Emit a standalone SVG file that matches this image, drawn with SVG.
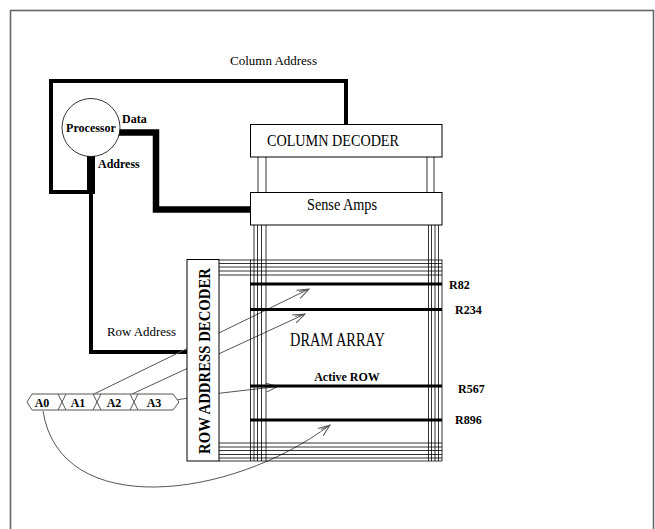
<svg xmlns="http://www.w3.org/2000/svg" width="655" height="529" viewBox="0 0 655 529">
<style>
  .lbl { font-family: "Liberation Serif", "Times New Roman", serif; font-size: 12px; font-weight: bold; fill: #000; }
  .lbln { font-family: "Liberation Serif", "Times New Roman", serif; font-size: 13px; fill: #000; }
  .box { fill: #fff; stroke: #000; stroke-width: 1; }
  .boxt { font-family: "Liberation Serif", "Times New Roman", serif; font-size: 16px; fill: #000; }
  .bus { fill: none; stroke: #000; stroke-linejoin: miter; stroke-linecap: square; }
  .grid { stroke: #000; stroke-width: 0.8; fill: none; }
  .row { stroke: #000; stroke-width: 2.8; }
  .arr { fill: none; stroke: #555; stroke-width: 1; marker-end: url(#open); }
</style>
<defs>
  <marker id="open" markerUnits="userSpaceOnUse" markerWidth="14" markerHeight="10" refX="12" refY="5" orient="auto">
    <path d="M0,0.5 L12,5 L0,9.5 M2,3 L10,5" fill="none" stroke="#555" stroke-width="1"/>
  </marker>
</defs>
<rect x="0" y="0" width="655" height="529" fill="#fff"/>
<rect x="10.5" y="10.5" width="643" height="530" fill="none" stroke="#666" stroke-width="1.6"/>

<g id="connectors">
  <!-- column address loop -->
  <polyline class="bus" stroke-width="4" points="91,192 51,192 51,81 346,81 346,124"/>
  <!-- address from processor -->
  <line x1="91" y1="156" x2="91" y2="194" stroke="#000" stroke-width="8"/>
  <!-- row address -->
  <polyline class="bus" stroke-width="4" points="91,192 91,352 187,352"/>
  <!-- data -->
  <polyline class="bus" stroke-width="6.5" points="119,132.5 156,132.5 156,209.5 250,209.5"/>
  <!-- address bits to rows -->
  <line class="arr" x1="94" y1="394" x2="309" y2="289"/>
  <line class="arr" x1="132" y1="394" x2="305" y2="314"/>
  <path class="arr" d="M163,402 Q220,392 278,386.5"/>
  <path class="arr" d="M43,411 C60,520 230,500 330,425"/>
</g>

<g id="processor">
  <circle cx="91" cy="127.5" r="29" fill="#fff" stroke="#000" stroke-width="0.8"/>
  <text class="lbl" x="91" y="132" text-anchor="middle">Processor</text>
</g>
<g id="labels">
  <text class="lbln" x="230" y="65" textLength="87" lengthAdjust="spacingAndGlyphs">Column Address</text>
  <text class="lbl" x="122" y="123">Data</text>
  <text class="lbl" x="98" y="168">Address</text>
  <text class="lbln" x="107" y="336" textLength="69" lengthAdjust="spacingAndGlyphs">Row Address</text>
</g>

<g id="column-decoder">
  <rect class="box" x="250.5" y="124.5" width="191.5" height="32.5"/>
  <text class="boxt" x="267" y="146" textLength="132" lengthAdjust="spacingAndGlyphs">COLUMN DECODER</text>
</g>
<g id="decoder-links" class="grid">
  <line x1="258" y1="157" x2="258" y2="192"/>
  <line x1="266" y1="157" x2="266" y2="192"/>
  <line x1="427" y1="157" x2="427" y2="192"/>
  <line x1="434" y1="157" x2="434" y2="192"/>
</g>
<g id="sense-amps">
  <rect class="box" x="250.5" y="192.5" width="191.5" height="32.5"/>
  <text class="boxt" x="307" y="210" textLength="70" lengthAdjust="spacingAndGlyphs">Sense Amps</text>
</g>

<g id="dram-array">
  <g class="grid">
    <!-- vertical bit lines left -->
    <line x1="250.5" y1="259.5" x2="250.5" y2="461"/>
    <line x1="254" y1="225" x2="254" y2="461"/>
    <line x1="257.5" y1="225" x2="257.5" y2="461"/>
    <line x1="261.5" y1="225" x2="261.5" y2="461"/>
    <line x1="266" y1="225" x2="266" y2="461"/>
    <!-- vertical bit lines right -->
    <line x1="428.5" y1="225" x2="428.5" y2="461"/>
    <line x1="431.5" y1="225" x2="431.5" y2="461"/>
    <line x1="435" y1="225" x2="435" y2="461"/>
    <line x1="438.5" y1="225" x2="438.5" y2="461"/>
    <line x1="442" y1="259.5" x2="442" y2="461"/>
    <!-- top word lines -->
    <line x1="219" y1="260" x2="442" y2="260"/>
    <line x1="219" y1="263.5" x2="442" y2="263.5"/>
    <line x1="219" y1="267" x2="442" y2="267"/>
    <line x1="219" y1="271" x2="442" y2="271"/>
    <line x1="219" y1="275" x2="442" y2="275"/>
    <!-- bottom word lines -->
    <line x1="219" y1="443" x2="442" y2="443"/>
    <line x1="219" y1="447" x2="442" y2="447"/>
    <line x1="219" y1="450.5" x2="442" y2="450.5"/>
    <line x1="219" y1="454.5" x2="442" y2="454.5"/>
    <line x1="219" y1="458" x2="442" y2="458"/>
    <line x1="219" y1="461" x2="442" y2="461"/>
  </g>
  <line class="row" x1="250" y1="284" x2="442" y2="284"/>
  <line class="row" x1="250" y1="309.5" x2="442" y2="309.5"/>
  <line class="row" x1="250" y1="386" x2="442" y2="386"/>
  <line class="row" x1="250" y1="420" x2="442" y2="420"/>
  <text x="290" y="346" font-family="Liberation Serif, Times New Roman, serif" font-size="18.5" fill="#000" textLength="95" lengthAdjust="spacingAndGlyphs">DRAM ARRAY</text>
  <text class="lbl" x="347" y="381" text-anchor="middle">Active ROW</text>
  <text class="lbl" x="449" y="289">R82</text>
  <text class="lbl" x="455" y="314">R234</text>
  <text class="lbl" x="458" y="393">R567</text>
  <text class="lbl" x="455" y="424">R896</text>
</g>

<g id="row-address-decoder">
  <rect class="box" x="187" y="259.5" width="32" height="201.5"/>
  <text transform="translate(209.5,361) rotate(-90)" text-anchor="middle" font-family="Liberation Serif, Times New Roman, serif" font-size="17" font-weight="bold" fill="#000" textLength="186" lengthAdjust="spacingAndGlyphs">ROW ADDRESS DECODER</text>
</g>

<g id="address-bits">
  <path d="M27,402 L32,394 L173,394 L179,402 L173,410 L32,410 Z" fill="#fff" stroke="#555" stroke-width="1"/>
  <path d="M58,394 L66,410 M66,394 L58,410 M93,394 L101,410 M101,394 L93,410 M130,394 L138,410 M138,394 L130,410" stroke="#555" stroke-width="1" fill="none"/>
  <text class="lbl" x="42" y="406.5" text-anchor="middle">A0</text>
  <text class="lbl" x="78" y="406.5" text-anchor="middle">A1</text>
  <text class="lbl" x="114" y="406.5" text-anchor="middle">A2</text>
  <text class="lbl" x="154" y="406.5" text-anchor="middle">A3</text>
</g>
</svg>
